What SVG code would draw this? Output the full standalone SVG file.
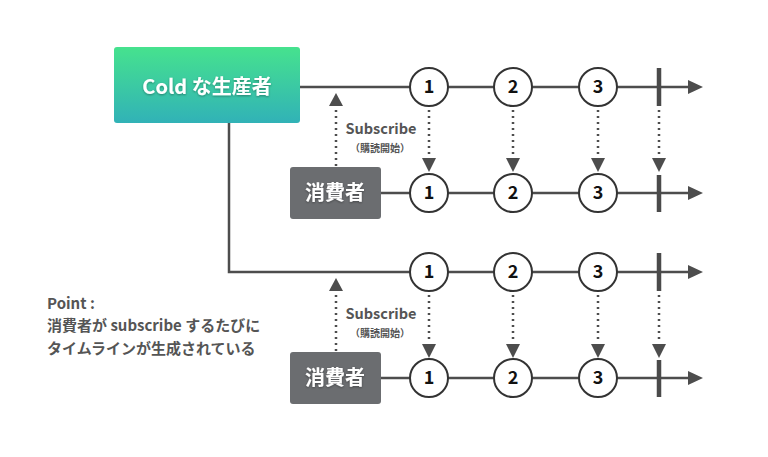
<svg xmlns="http://www.w3.org/2000/svg" width="768" height="457" viewBox="0 0 768 457">
<defs>
<linearGradient id="g" x1="0" y1="0" x2="0" y2="1">
<stop offset="0" stop-color="#46e28e"/>
<stop offset="1" stop-color="#31b2b7"/>
</linearGradient>
<filter id="ts" x="-10%" y="-30%" width="120%" height="160%">
<feDropShadow dx="0" dy="1" stdDeviation="1" flood-color="#000" flood-opacity="0.35"/>
</filter>
<style>
text{font-family:"Noto Sans CJK JP","Noto Sans",sans-serif;font-weight:bold}
.ln{stroke:#4d4d4d;stroke-width:2.5;fill:none}
.dot{stroke:#4d4d4d;stroke-width:2.5;fill:none;stroke-dasharray:2 4}
.hd{fill:#4d4d4d}
.c{fill:#fff;stroke:#333;stroke-width:2}
.n{font-size:18px;fill:#111;text-anchor:middle}
.bar{stroke:#4a4a4a;stroke-width:4.5}
.lbl{fill:#555;text-anchor:middle}
.wt{fill:#fff;text-anchor:middle;filter:url(#ts)}
.cons{fill:#6b6d70}
</style>
</defs>
<g id="connectors">
<path class="ln" d="M300 87H690M229 123V272H690M381 193H690M380 378H690"/>
<polygon class="hd" points="703,87 688,80 688,94"/>
<polygon class="hd" points="703,193 688,186 688,200"/>
<polygon class="hd" points="703,272 688,265 688,279"/>
<polygon class="hd" points="703,378 688,371 688,385"/>
<path class="dot" d="M336 166V107M336 351V292"/>
<polygon class="hd" points="336,93 329,106 343,106"/>
<polygon class="hd" points="336,278 329,291 343,291"/>
<path class="dot" d="M429 110V157M513 110V157M598 110V157M659 110V157M429 295V343M513 295V343M598 295V343M659 295V343"/>
<polygon class="hd" points="429,172 422,158 436,158"/>
<polygon class="hd" points="513,172 506,158 520,158"/>
<polygon class="hd" points="598,172 591,158 605,158"/>
<polygon class="hd" points="659,172 652,158 666,158"/>
<polygon class="hd" points="429,358 422,344 436,344"/>
<polygon class="hd" points="513,358 506,344 520,344"/>
<polygon class="hd" points="598,358 591,344 605,344"/>
<polygon class="hd" points="659,358 652,344 666,344"/>
<path class="bar" d="M659 68V106M659 175V212M659 253V291M659 360V397"/>
<text class="lbl" x="381" y="134" font-size="14.5">Subscribe</text>
<text class="lbl" x="380" y="152" font-size="10">（購読開始）</text>
<text class="lbl" x="381" y="319" font-size="14.5">Subscribe</text>
<text class="lbl" x="380" y="337" font-size="10">（購読開始）</text>
</g>
<g id="producer">
<rect x="114" y="47" width="186" height="76" rx="3" fill="url(#g)"/>
<text class="wt" x="207" y="94" font-size="20">Cold な生産者</text>
</g>
<g id="consumer1">
<rect class="cons" x="290" y="167" width="91" height="52" rx="3"/>
<text class="wt" x="335" y="200" font-size="20">消費者</text>
</g>
<g id="consumer2">
<rect class="cons" x="290" y="352" width="91" height="52" rx="3"/>
<text class="wt" x="335" y="385" font-size="20">消費者</text>
</g>
<g id="events-top">
<circle class="c" cx="429" cy="87" r="19"/><text class="n" x="429" y="93">1</text>
<circle class="c" cx="513" cy="87" r="19"/><text class="n" x="513" y="93">2</text>
<circle class="c" cx="598" cy="87" r="19"/><text class="n" x="598" y="93">3</text>
</g>
<g id="events-c1">
<circle class="c" cx="429" cy="193" r="19"/><text class="n" x="429" y="199">1</text>
<circle class="c" cx="513" cy="193" r="19"/><text class="n" x="513" y="199">2</text>
<circle class="c" cx="598" cy="193" r="19"/><text class="n" x="598" y="199">3</text>
</g>
<g id="events-mid">
<circle class="c" cx="429" cy="272" r="19"/><text class="n" x="429" y="278">1</text>
<circle class="c" cx="513" cy="272" r="19"/><text class="n" x="513" y="278">2</text>
<circle class="c" cx="598" cy="272" r="19"/><text class="n" x="598" y="278">3</text>
</g>
<g id="events-c2">
<circle class="c" cx="429" cy="378" r="19"/><text class="n" x="429" y="384">1</text>
<circle class="c" cx="513" cy="378" r="19"/><text class="n" x="513" y="384">2</text>
<circle class="c" cx="598" cy="378" r="19"/><text class="n" x="598" y="384">3</text>
</g>
<g id="note" fill="#555" font-size="15">
<text x="47" y="309">Point :</text>
<text x="47" y="331">消費者が subscribe するたびに</text>
<text x="47" y="354">タイムラインが生成されている</text>
</g>
</svg>
